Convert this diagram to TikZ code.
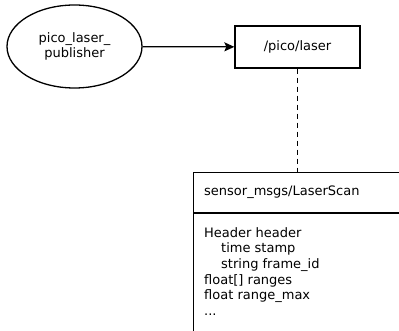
\documentclass[tikz,border=0pt]{standalone}
\usepackage{fontspec}
\setmainfont{DejaVu Sans}
\usetikzlibrary{shapes.geometric,arrows.meta}

\begin{document}
\begin{tikzpicture}[x=1pt,y=-1pt,font=\fontsize{13}{15.7}\selectfont,
    nodebox/.style={draw,line width=1.3pt,ellipse,minimum width=135,minimum height=83,align=center},
    topicbox/.style={draw,line width=1.3pt,rectangle,minimum width=125,minimum height=42},
    msgbox/.style={draw,line width=1pt,rectangle,anchor=north west,minimum width=230}]
  \useasboundingbox (0,0) rectangle (399,331);
  \clip (0,0) rectangle (399,331);
  \node[nodebox] (pub) at (74.5,46.5) {pico\_laser\_\\publisher};
  \node[topicbox] (topic) at (297.5,47) {/pico/laser};
  \node[msgbox,minimum height=40] (msghead) at (193,172) {};
  \node[msgbox,minimum height=140] (msgbody) at (msghead.south west) {};
  \node[anchor=west,inner sep=0pt] (msgname) at (204,192) {sensor\_msgs/LaserScan};
  \node[anchor=north west,align=left,inner sep=0pt] (msgfields) at (204,227)
    {Header header\\
     \hspace*{17pt}time stamp\\
     \hspace*{17pt}string frame\_id\\
     float[] ranges\\
     float range\_max\\
     ...};
  \begin{scope}[line width=1.3pt]
    \draw[-{Stealth[length=10pt,width=9pt,inset=2pt]}] (pub) to (topic);
    \draw[dash pattern=on 5pt off 4pt] (topic.south) to (topic.south |- msghead.north);
  \end{scope}
\end{tikzpicture}
\end{document}
